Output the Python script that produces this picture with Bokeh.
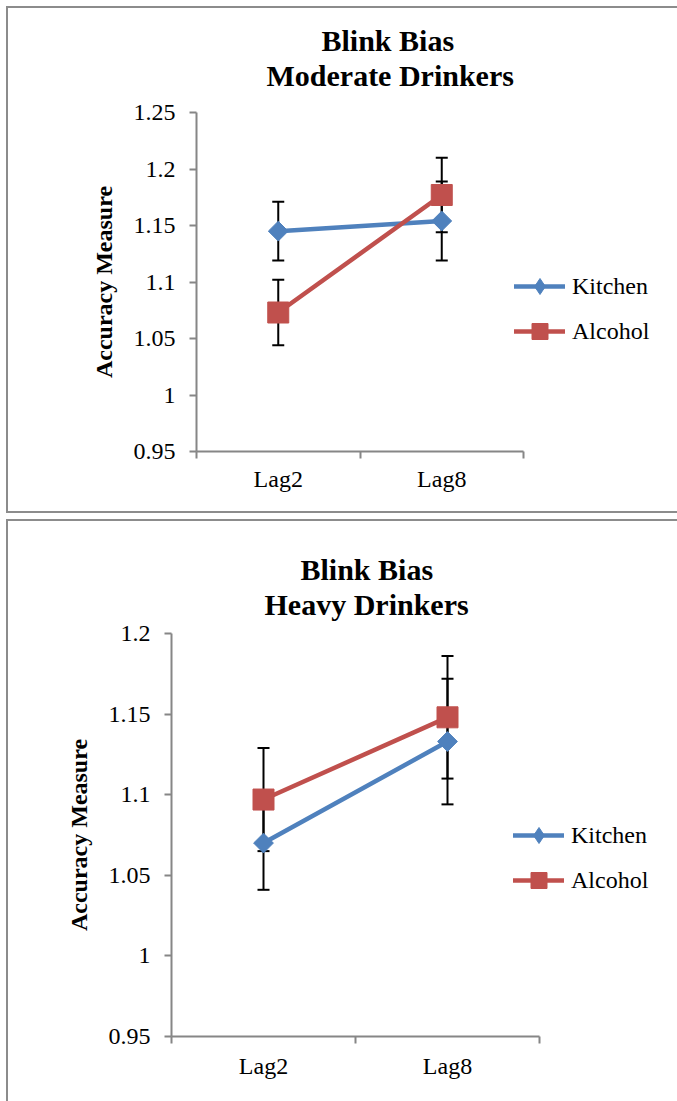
import math
from bokeh.plotting import figure
from bokeh.models import (FactorRange, Range1d, LinearAxis, CategoricalAxis, FixedTicker,
                          PrintfTickFormatter, Legend, LegendItem, Title)
from bokeh.layouts import column
from bokeh.embed import file_html
from bokeh.resources import INLINE

# ---------------- data ----------------
lags = ["Lag2", "Lag8"]
series_names = ["Kitchen", "Alcohol"]

mod_kitchen = [1.145, 1.154]
mod_kitchen_err = [0.026, 0.035]
mod_alcohol = [1.073, 1.177]
mod_alcohol_err = [0.029, 0.033]

heavy_kitchen = [1.070, 1.133]
heavy_kitchen_err = [0.029, 0.039]
heavy_alcohol = [1.097, 1.148]
heavy_alcohol_err = [0.032, 0.038]

mod_yticks = [0.95, 1.0, 1.05, 1.1, 1.15, 1.2, 1.25]
heavy_yticks = [0.95, 1.0, 1.05, 1.1, 1.15, 1.2]

mod_title = ["Blink Bias", "Moderate Drinkers"]
heavy_title = ["Blink Bias", "Heavy Drinkers"]
y_label = "Accuracy Measure"

# ---------------- style ----------------
BLUE = "#4F81BD"
RED = "#C0504D"
AXIS = "#868686"
BORDER = "#8C8C8C"
FONT = "Liberation Serif"
TEXT = "black"


def make_panel(titles, kitchen, kitchen_err, alcohol, alcohol_err, yticks, geo):
    p = figure(x_range=FactorRange(*lags), y_range=Range1d(yticks[0], yticks[-1]),
               frame_width=geo["fw"], frame_height=geo["fh"],
               min_border_left=geo["left"], min_border_right=geo["right"],
               min_border_top=geo["top"], min_border_bottom=geo["bottom"],
               x_axis_location=None, y_axis_location=None,
               output_backend="svg", toolbar_location=None)
    p.frame_align = False
    p.grid.visible = False
    p.outline_line_color = None
    p.background_fill_color = "white"
    p.border_fill_color = "white"
    p.styles = geo["styles"]

    # y axis
    yaxis = LinearAxis(ticker=FixedTicker(ticks=yticks),
                       formatter=PrintfTickFormatter(format="%g"),
                       axis_label=y_label,
                       axis_label_text_font=FONT, axis_label_text_font_style="bold",
                       axis_label_text_font_size="24px", axis_label_standoff=geo["ylab_standoff"],
                       axis_label_text_color=TEXT,
                       major_label_text_font=FONT, major_label_text_font_size="24px",
                       major_label_text_color=TEXT,
                       major_label_standoff=geo["ytick_standoff"],
                       axis_line_color=AXIS, axis_line_width=2,
                       major_tick_line_color=AXIS, major_tick_line_width=2,
                       major_tick_out=7, major_tick_in=0,
                       minor_tick_line_color=None)
    p.add_layout(yaxis, "left")

    # x axis: boundary ticks between categories (synthetic factor coordinates 0..n)
    xticks = LinearAxis(ticker=FixedTicker(ticks=list(range(len(lags) + 1))),
                        major_label_overrides={i: "" for i in range(len(lags) + 1)},
                        major_label_text_font_size="1px", major_label_standoff=0,
                        axis_line_color=AXIS, axis_line_width=2,
                        major_tick_line_color=AXIS, major_tick_line_width=2,
                        major_tick_out=7, major_tick_in=0,
                        minor_tick_line_color=None)
    p.add_layout(xticks, "below")
    xcat = CategoricalAxis(axis_line_color=None, major_tick_line_color=None,
                           minor_tick_line_color=None,
                           major_label_text_font=FONT, major_label_text_font_size="24px",
                           major_label_text_color=TEXT,
                           major_label_standoff=geo["xlab_standoff"])
    p.add_layout(xcat, "below")

    # error bars (drawn below the markers)
    for vals, errs in ((kitchen, kitchen_err), (alcohol, alcohol_err)):
        lo = [v - e for v, e in zip(vals, errs)]
        hi = [v + e for v, e in zip(vals, errs)]
        p.segment(x0=lags, y0=lo, x1=lags, y1=hi, line_color="black", line_width=2)
        p.scatter(x=lags + lags, y=lo + hi, marker="dash", size=12,
                  line_color="black", line_width=2)

    # series
    kl = p.line(x=lags, y=kitchen, line_color=BLUE, line_width=4.5,
                line_cap="round", line_join="round")
    kd_leg = p.scatter(x=lags, y=kitchen, marker="diamond", size=16,
                       fill_color=BLUE, line_color=BLUE)
    p.scatter(x=lags, y=kitchen, marker="square", angle=math.pi / 4, size=14,
              fill_color=BLUE, line_color=BLUE)
    al = p.line(x=lags, y=alcohol, line_color=RED, line_width=4.5,
                line_cap="round", line_join="round")
    asq = p.scatter(x=lags, y=alcohol, marker="square", size=21,
                    fill_color=RED, line_color=RED)

    legend = Legend(items=[LegendItem(label=series_names[0], renderers=[kl, kd_leg]),
                           LegendItem(label=series_names[1], renderers=[al, asq])],
                    location=geo["legend_loc"], orientation="vertical",
                    border_line_color=None, background_fill_alpha=0,
                    padding=0, margin=0, spacing=5,
                    glyph_width=51, glyph_height=40, label_height=40,
                    label_standoff=7, label_text_font=FONT, label_text_font_size="24px",
                    label_text_color=TEXT)
    p.add_layout(legend, "right")

    # titles (nearest the frame first)
    p.add_layout(Title(text=titles[1], text_font=FONT, text_font_style="bold",
                       text_font_size="30px", text_color=TEXT, align="left",
                       offset=geo["t2_off"], standoff=geo["t2_standoff"]), "above")
    p.add_layout(Title(text=titles[0], text_font=FONT, text_font_style="bold",
                       text_font_size="30px", text_color=TEXT, align="left",
                       offset=geo["t1_off"], standoff=geo["t1_standoff"]), "above")
    return p


edge = "2px solid " + BORDER
# canvas coordinates: page position minus the panel border offset
geo_top = dict(left=188, fw=325, right=156, top=104, fh=335, bottom=64,
               ylab_standoff=14, ytick_standoff=14, xlab_standoff=1,
               legend_loc=(-9, 100), t1_off=125, t2_off=70,
               t1_standoff=-41, t2_standoff=41,
               styles={"margin-left": "6px", "margin-top": "6px",
                       "border-left": edge, "border-top": edge, "border-bottom": edge})
geo_bot = dict(left=163, fw=366, right=140, top=112, fh=401, bottom=67,
               ylab_standoff=14, ytick_standoff=14, xlab_standoff=3,
               legend_loc=(-26, 136), t1_off=129, t2_off=93,
               t1_standoff=-27, t2_standoff=26,
               styles={"margin-left": "6px", "margin-top": "6px",
                       "border-left": edge, "border-top": edge})

p1 = make_panel(mod_title, mod_kitchen, mod_kitchen_err, mod_alcohol, mod_alcohol_err,
                mod_yticks, geo_top)
p2 = make_panel(heavy_title, heavy_kitchen, heavy_kitchen_err, heavy_alcohol, heavy_alcohol_err,
                heavy_yticks, geo_bot)

layout = column(p1, p2, spacing=0)
open("out.html", "w").write(file_html(layout, INLINE))
